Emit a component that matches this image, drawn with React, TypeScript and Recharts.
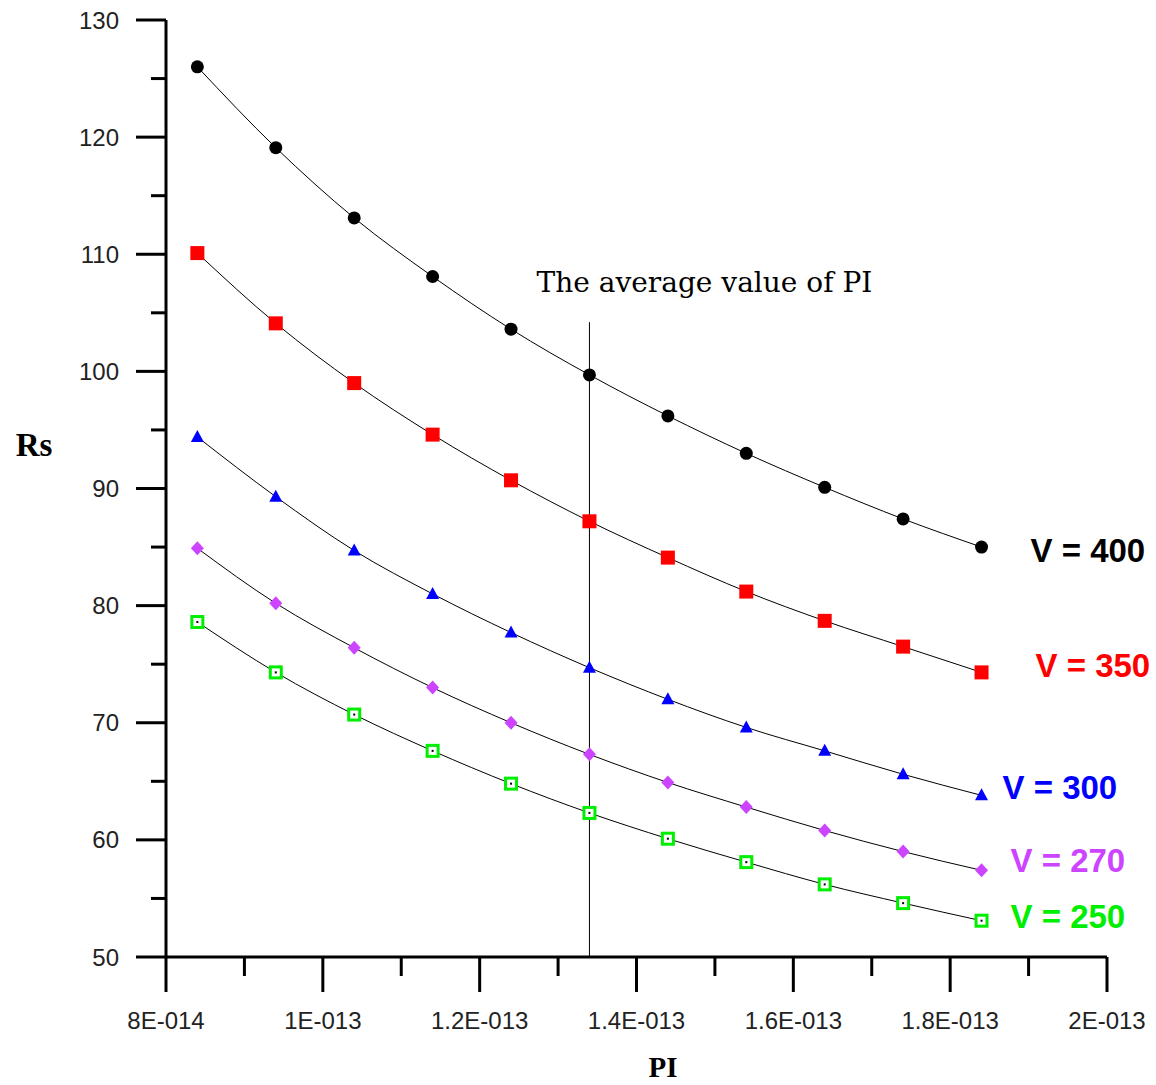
import { LabelList, Line, LineChart, ReferenceLine, XAxis, YAxis, Label } from 'recharts';

const PI_VALUES = [8.4e-14, 9.4e-14, 1.04e-13, 1.14e-13, 1.24e-13, 1.34e-13, 1.44e-13, 1.54e-13, 1.64e-13, 1.74e-13, 1.84e-13];

const RS_400 = [126.0, 119.1, 113.1, 108.1, 103.6, 99.7, 96.2, 93.0, 90.1, 87.4, 85.0];
const RS_350 = [110.1, 104.1, 99.0, 94.6, 90.7, 87.2, 84.1, 81.2, 78.7, 76.5, 74.3];
const RS_300 = [94.4, 89.3, 84.7, 81.0, 77.7, 74.7, 72.0, 69.6, 67.6, 65.6, 63.8];
const RS_270 = [84.9, 80.2, 76.4, 73.0, 70.0, 67.3, 64.9, 62.8, 60.8, 59.0, 57.4];
const RS_250 = [78.6, 74.3, 70.7, 67.6, 64.8, 62.3, 60.1, 58.1, 56.2, 54.6, 53.1];

const X_TICKS = [8e-14, 9e-14, 1e-13, 1.1e-13, 1.2e-13, 1.3e-13, 1.4e-13, 1.5e-13, 1.6e-13, 1.7e-13, 1.8e-13, 1.9e-13, 2e-13];
const X_TICK_LABELS = ['8E-014', '', '1E-013', '', '1.2E-013', '', '1.4E-013', '', '1.6E-013', '', '1.8E-013', '', '2E-013'];
const Y_TICKS = [50, 55, 60, 65, 70, 75, 80, 85, 90, 95, 100, 105, 110, 115, 120, 125, 130];
const Y_TICK_LABELS = ['50', '', '60', '', '70', '', '80', '', '90', '', '100', '', '110', '', '120', '', '130'];

const AVG_PI = 1.34e-13;
const AVG_LINE_TOP = 104.2;

const toRows = (ys: number[]) => PI_VALUES.map((pi, i) => ({ pi, rs: ys[i] }));

const TICK_FONT = '"Liberation Sans", Arial, sans-serif';

function XTick({ x, y, payload }: any) {
  const i = X_TICKS.findIndex((t) => Math.abs(t - payload.value) < 1e-16);
  const label = X_TICK_LABELS[i] ?? '';
  const major = label !== '';
  return (
    <g>
      <line x1={x} x2={x} y1={y} y2={y + (major ? 35 : 19)} stroke="#000" strokeWidth={3} />
      {major && (
        <text x={x} y={y + 63} textAnchor="middle" dominantBaseline="central" fontSize={24} fontFamily={TICK_FONT} fill="#222">
          {label}
        </text>
      )}
    </g>
  );
}

function YTick({ x, y, payload }: any) {
  const i = Y_TICKS.indexOf(payload.value);
  const label = Y_TICK_LABELS[i] ?? '';
  const major = label !== '';
  return (
    <g>
      <line x1={x - (major ? 30 : 15)} x2={x} y1={y} y2={y} stroke="#000" strokeWidth={3} />
      {major && (
        <text x={x - 47} y={y} textAnchor="end" dominantBaseline="central" fontSize={24} fontFamily={TICK_FONT} fill="#222">
          {label}
        </text>
      )}
    </g>
  );
}

const circleDot = (p: any) => <circle key={p.index} cx={p.cx} cy={p.cy} r={6.5} fill="#000" />;
const squareDot = (p: any) => <rect key={p.index} x={p.cx - 7} y={p.cy - 7} width={14} height={14} fill="#ff0000" />;
const triangleDot = (p: any) => (
  <path key={p.index} d={`M${p.cx},${p.cy - 7} L${p.cx + 6.5},${p.cy + 5} L${p.cx - 6.5},${p.cy + 5} Z`} fill="#0000ff" />
);
const diamondDot = (p: any) => (
  <path key={p.index} d={`M${p.cx},${p.cy - 7} L${p.cx + 6.5},${p.cy} L${p.cx},${p.cy + 7} L${p.cx - 6.5},${p.cy} Z`} fill="#cc44ff" />
);
const openSquareDot = (p: any) => (
  <g key={p.index}>
    <rect x={p.cx - 5.5} y={p.cy - 5.5} width={11} height={11} fill="#fff" stroke="#00ee00" strokeWidth={3} />
    <rect x={p.cx - 1} y={p.cy - 1} width={2} height={2} fill="#000" />
  </g>
);

const endLabel = (text: string, color: string, dx: number, dy: number) => (p: any) => {
  if (p.index !== PI_VALUES.length - 1) return null;
  return (
    <text x={p.x + dx} y={p.y + dy} dominantBaseline="central" fontSize={33} fontWeight="bold" fontFamily={TICK_FONT} fill={color}>
      {text}
    </text>
  );
};

const SERIES = [
  { key: 'v400', data: RS_400, dot: circleDot, label: endLabel('V = 400', '#000', 49, 3) },
  { key: 'v350', data: RS_350, dot: squareDot, label: endLabel('V = 350', '#ff0000', 54, -7) },
  { key: 'v300', data: RS_300, dot: triangleDot, label: endLabel('V = 300', '#0000ff', 21, -8) },
  { key: 'v270', data: RS_270, dot: diamondDot, label: endLabel('V = 270', '#cc44ff', 29, -10) },
  { key: 'v250', data: RS_250, dot: openSquareDot, label: endLabel('V = 250', '#00ee00', 29, -4) },
];

export default function App() {
  return (
    <div style={{ position: 'absolute', left: 0, top: 0, background: '#fff' }}>
      <LineChart width={1156} height={1085} margin={{ top: 20, right: 49, left: 1, bottom: 68 }}>
        <XAxis
          dataKey="pi"
          type="number"
          domain={[8e-14, 2e-13]}
          ticks={X_TICKS}
          interval={0}
          allowDataOverflow
          height={60}
          tickSize={0}
          tickMargin={0}
          tickLine={false}
          axisLine={{ stroke: '#000', strokeWidth: 3 }}
          tick={<XTick />}
        >
          <Label
            content={() => (
              <text x={663} y={1077} textAnchor="middle" fontSize={29} fontWeight="bold" fontFamily='"Liberation Serif", "Times New Roman", serif' fill="#000">
                PI
              </text>
            )}
          />
        </XAxis>
        <YAxis
          dataKey="rs"
          type="number"
          domain={[50, 130]}
          ticks={Y_TICKS}
          interval={0}
          allowDataOverflow
          width={165}
          tickSize={0}
          tickMargin={0}
          tickLine={false}
          axisLine={{ stroke: '#000', strokeWidth: 3 }}
          tick={<YTick />}
        >
          <Label
            content={() => (
              <text x={34} y={456} textAnchor="middle" fontSize={33} fontWeight="bold" fontFamily='"Liberation Serif", "Times New Roman", serif' fill="#000">
                Rs
              </text>
            )}
          />
        </YAxis>
        <ReferenceLine
          segment={[
            { x: AVG_PI, y: 50 },
            { x: AVG_PI, y: AVG_LINE_TOP },
          ]}
          stroke="#000"
          strokeWidth={1}
        >
          <Label
            content={(p: any) => (
              <text x={(p.viewBox?.x ?? 590) + 115} y={(p.viewBox?.y ?? 322) - 30} textAnchor="middle" fontSize={28} fontFamily='"DejaVu Serif", serif' fill="#000">
                The average value of PI
              </text>
            )}
          />
        </ReferenceLine>
        {SERIES.map((s) => (
          <Line
            key={s.key}
            data={toRows(s.data)}
            dataKey="rs"
            type="monotone"
            stroke="#000"
            strokeWidth={1}
            dot={s.dot}
            activeDot={false}
            isAnimationActive={false}
          >
            <LabelList dataKey="rs" content={s.label} />
          </Line>
        ))}
      </LineChart>
    </div>
  );
}
